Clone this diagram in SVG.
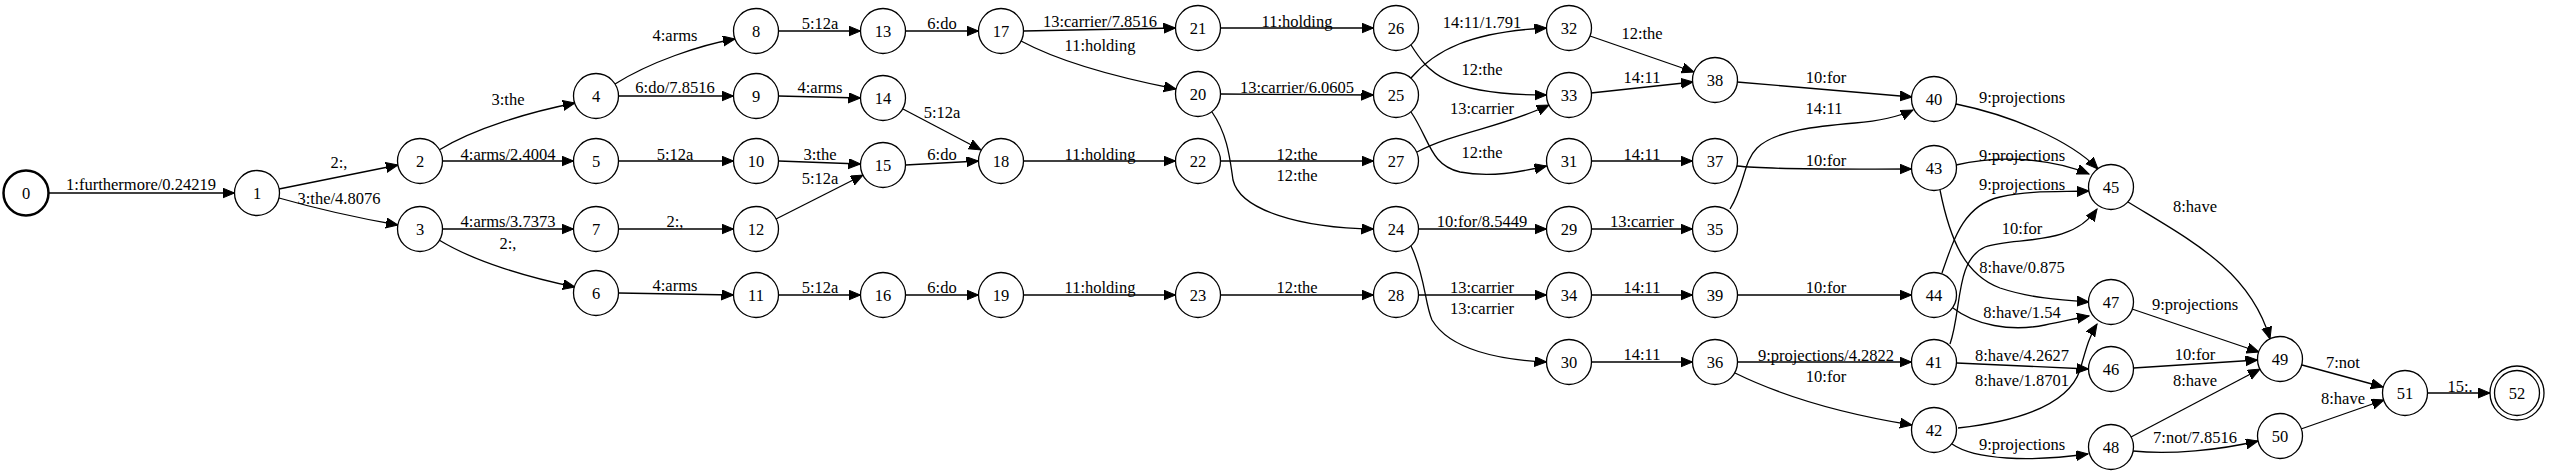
<svg xmlns="http://www.w3.org/2000/svg" width="2550" height="475" viewBox="0 0 2550 475">
<style>
.n circle{fill:#fff;stroke:#000;stroke-width:1.3}
.n text,.lbl text{font-family:"Liberation Serif","Times New Roman",serif;font-size:16.5px;text-anchor:middle;fill:#000}
#edges path{fill:none;stroke:#000;stroke-width:1.3;marker-end:url(#ah)}
</style>
<defs>
<marker id="ah" markerUnits="userSpaceOnUse" markerWidth="13" markerHeight="11" refX="12" refY="5" orient="auto">
<path d="M0,0 L12,5 L0,10 z" fill="#000" stroke="#000" stroke-width="1"/>
</marker>
</defs>
<rect width="2550" height="475" fill="#fff"/>
<g id="edges">
<path d="M48.5,193 L234.5,193"/>
<path d="M279,189 L398,165"/>
<path d="M279,198 Q335,214 398,225"/>
<path d="M439,150 C475,128 530,112 575,103"/>
<path d="M442.5,161 L573.5,161"/>
<path d="M442.5,229 L573.5,229"/>
<path d="M439,240 C475,262 530,278 575,287"/>
<path d="M615,84 C650,62 700,45 735,39"/>
<path d="M618.5,96 L733.5,96"/>
<path d="M618.5,161 L733.5,161"/>
<path d="M618.5,229 L733.5,229"/>
<path d="M618.5,293 L733.5,295"/>
<path d="M778.5,31 L860.5,31"/>
<path d="M778.5,96 L860.5,98"/>
<path d="M778.5,161 L860.5,164"/>
<path d="M776,219 L863,175"/>
<path d="M778.5,295 L860.5,295"/>
<path d="M905.5,31 L978.5,31"/>
<path d="M903,109 L981,150"/>
<path d="M905.5,165 L978.5,161"/>
<path d="M905.5,295 L978.5,295"/>
<path d="M1023.5,31 L1175.5,28"/>
<path d="M1021,41 C1060,62 1120,78 1176,89"/>
<path d="M1023.5,161 L1175.5,161"/>
<path d="M1023.5,295 L1175.5,295"/>
<path d="M1220.5,28 L1373.5,28"/>
<path d="M1220.5,94 L1373.5,95"/>
<path d="M1220.5,161 L1373.5,161"/>
<path d="M1220.5,295 L1373.5,295"/>
<path d="M1212,112 C1228,135 1230,160 1233,180 C1240,210 1300,228 1373.5,229"/>
<path d="M1418.5,229 L1546.5,229"/>
<path d="M1418.5,295 L1546.5,295"/>
<path d="M1411,246 C1425,275 1425,305 1432,320 C1450,350 1500,360 1546.5,362"/>
<path d="M1411,78 C1435,50 1470,32 1546.5,28"/>
<path d="M1411,45 C1428,72 1445,95 1546.5,95"/>
<path d="M1417,152 C1455,132 1500,128 1549,105"/>
<path d="M1411,112 C1430,140 1430,165 1460,172 C1490,178 1520,172 1546.5,166"/>
<path d="M1591.5,229 L1692.5,229"/>
<path d="M1590,36 L1694,72"/>
<path d="M1591,93 L1693,82"/>
<path d="M1591.5,161 L1692.5,161"/>
<path d="M1591.5,295 L1692.5,295"/>
<path d="M1591.5,362 L1692.5,362"/>
<path d="M1737,82 L1912,97"/>
<path d="M1730,209 C1745,185 1743,162 1757,148 C1775,130 1820,126 1855,123 C1880,121 1898,117 1913,110"/>
<path d="M1737,166 C1770,170 1840,169 1911.5,169"/>
<path d="M1737.5,295 L1911.5,295"/>
<path d="M1737.5,362 L1911.5,362"/>
<path d="M1735,373 C1790,400 1850,415 1912,425"/>
<path d="M1956,104 C2010,115 2070,140 2098,169"/>
<path d="M1956,165 C2000,155 2050,158 2089,174"/>
<path d="M1942,273 C1955,235 1965,205 2000,197 C2030,190 2060,192 2089,191"/>
<path d="M1950,344 C1962,310 1955,260 1985,247 C2015,236 2070,248 2097,209"/>
<path d="M1940,190 C1950,240 1965,275 2000,288 C2030,298 2060,300 2089,302"/>
<path d="M1953,308 C1975,325 2010,332 2045,325 C2065,321 2078,318 2089,316"/>
<path d="M1956.5,363 L2088.5,369"/>
<path d="M1958,428 C2030,420 2070,400 2080,370 C2087,345 2090,335 2097,324"/>
<path d="M1952,444 C1975,460 2030,462 2088,454"/>
<path d="M2128,202 C2190,240 2250,270 2270,339"/>
<path d="M2132,309 L2259,352"/>
<path d="M2133.5,368 L2257.5,360"/>
<path d="M2131,437 L2260,369"/>
<path d="M2133,451 C2170,455 2220,450 2258,441"/>
<path d="M2302,365 L2383,387"/>
<path d="M2301,429 L2384,400"/>
<path d="M2427.5,393 L2490,393"/>
</g>
<g class="lbl" id="edge-labels">
<text x="141" y="189.5">1:furthermore/0.24219</text>
<text x="339" y="167.5">2:,</text>
<text x="339" y="203.5">3:the/4.8076</text>
<text x="508" y="104.5">3:the</text>
<text x="508" y="159.5">4:arms/2.4004</text>
<text x="508" y="226.5">4:arms/3.7373</text>
<text x="508" y="248.5">2:,</text>
<text x="675" y="40.5">4:arms</text>
<text x="675" y="92.5">6:do/7.8516</text>
<text x="675" y="159.5">5:12a</text>
<text x="675" y="226.5">2:,</text>
<text x="675" y="290.5">4:arms</text>
<text x="820" y="28.5">5:12a</text>
<text x="820" y="92.5">4:arms</text>
<text x="820" y="159.5">3:the</text>
<text x="820" y="183.5">5:12a</text>
<text x="820" y="292.5">5:12a</text>
<text x="942" y="28.5">6:do</text>
<text x="942" y="117.5">5:12a</text>
<text x="942" y="159.5">6:do</text>
<text x="942" y="292.5">6:do</text>
<text x="1100" y="26.5">13:carrier/7.8516</text>
<text x="1100" y="50.5">11:holding</text>
<text x="1100" y="159.5">11:holding</text>
<text x="1100" y="292.5">11:holding</text>
<text x="1297" y="26.5">11:holding</text>
<text x="1297" y="92.5">13:carrier/6.0605</text>
<text x="1297" y="159.5">12:the</text>
<text x="1297" y="180.5">12:the</text>
<text x="1297" y="292.5">12:the</text>
<text x="1482" y="27.5">14:11/1.791</text>
<text x="1482" y="74.5">12:the</text>
<text x="1482" y="113.5">13:carrier</text>
<text x="1482" y="157.5">12:the</text>
<text x="1482" y="226.5">10:for/8.5449</text>
<text x="1482" y="292.5">13:carrier</text>
<text x="1482" y="313.5">13:carrier</text>
<text x="1642" y="38.5">12:the</text>
<text x="1642" y="82.5">14:11</text>
<text x="1642" y="159.5">14:11</text>
<text x="1642" y="226.5">13:carrier</text>
<text x="1642" y="292.5">14:11</text>
<text x="1642" y="359.5">14:11</text>
<text x="1826" y="82.5">10:for</text>
<text x="1824" y="113.5">14:11</text>
<text x="1826" y="165.5">10:for</text>
<text x="1826" y="292.5">10:for</text>
<text x="1826" y="360.5">9:projections/4.2822</text>
<text x="1826" y="381.5">10:for</text>
<text x="2022" y="102.5">9:projections</text>
<text x="2022" y="160.5">9:projections</text>
<text x="2022" y="189.5">9:projections</text>
<text x="2022" y="233.5">10:for</text>
<text x="2022" y="272.5">8:have/0.875</text>
<text x="2022" y="317.5">8:have/1.54</text>
<text x="2022" y="360.5">8:have/4.2627</text>
<text x="2022" y="385.5">8:have/1.8701</text>
<text x="2022" y="449.5">9:projections</text>
<text x="2195" y="211.5">8:have</text>
<text x="2195" y="309.5">9:projections</text>
<text x="2195" y="359.5">10:for</text>
<text x="2195" y="385.5">8:have</text>
<text x="2195" y="442.5">7:not/7.8516</text>
<text x="2343" y="367.5">7:not</text>
<text x="2343" y="403.5">8:have</text>
<text x="2460" y="391.5">15:.</text>
</g>
<g id="node0" class="n"><circle cx="26" cy="193" r="22.5" style="stroke-width:2.5"/><text x="26" y="198.5">0</text></g>
<g id="node1" class="n"><circle cx="257" cy="193" r="22.5"/><text x="257" y="198.5">1</text></g>
<g id="node2" class="n"><circle cx="420" cy="161" r="22.5"/><text x="420" y="166.5">2</text></g>
<g id="node3" class="n"><circle cx="420" cy="229" r="22.5"/><text x="420" y="234.5">3</text></g>
<g id="node4" class="n"><circle cx="596" cy="96" r="22.5"/><text x="596" y="101.5">4</text></g>
<g id="node5" class="n"><circle cx="596" cy="161" r="22.5"/><text x="596" y="166.5">5</text></g>
<g id="node6" class="n"><circle cx="596" cy="293" r="22.5"/><text x="596" y="298.5">6</text></g>
<g id="node7" class="n"><circle cx="596" cy="229" r="22.5"/><text x="596" y="234.5">7</text></g>
<g id="node8" class="n"><circle cx="756" cy="31" r="22.5"/><text x="756" y="36.5">8</text></g>
<g id="node9" class="n"><circle cx="756" cy="96" r="22.5"/><text x="756" y="101.5">9</text></g>
<g id="node10" class="n"><circle cx="756" cy="161" r="22.5"/><text x="756" y="166.5">10</text></g>
<g id="node11" class="n"><circle cx="756" cy="295" r="22.5"/><text x="756" y="300.5">11</text></g>
<g id="node12" class="n"><circle cx="756" cy="229" r="22.5"/><text x="756" y="234.5">12</text></g>
<g id="node13" class="n"><circle cx="883" cy="31" r="22.5"/><text x="883" y="36.5">13</text></g>
<g id="node14" class="n"><circle cx="883" cy="98" r="22.5"/><text x="883" y="103.5">14</text></g>
<g id="node15" class="n"><circle cx="883" cy="165" r="22.5"/><text x="883" y="170.5">15</text></g>
<g id="node16" class="n"><circle cx="883" cy="295" r="22.5"/><text x="883" y="300.5">16</text></g>
<g id="node17" class="n"><circle cx="1001" cy="31" r="22.5"/><text x="1001" y="36.5">17</text></g>
<g id="node18" class="n"><circle cx="1001" cy="161" r="22.5"/><text x="1001" y="166.5">18</text></g>
<g id="node19" class="n"><circle cx="1001" cy="295" r="22.5"/><text x="1001" y="300.5">19</text></g>
<g id="node20" class="n"><circle cx="1198" cy="94" r="22.5"/><text x="1198" y="99.5">20</text></g>
<g id="node21" class="n"><circle cx="1198" cy="28" r="22.5"/><text x="1198" y="33.5">21</text></g>
<g id="node22" class="n"><circle cx="1198" cy="161" r="22.5"/><text x="1198" y="166.5">22</text></g>
<g id="node23" class="n"><circle cx="1198" cy="295" r="22.5"/><text x="1198" y="300.5">23</text></g>
<g id="node24" class="n"><circle cx="1396" cy="229" r="22.5"/><text x="1396" y="234.5">24</text></g>
<g id="node25" class="n"><circle cx="1396" cy="95" r="22.5"/><text x="1396" y="100.5">25</text></g>
<g id="node26" class="n"><circle cx="1396" cy="28" r="22.5"/><text x="1396" y="33.5">26</text></g>
<g id="node27" class="n"><circle cx="1396" cy="161" r="22.5"/><text x="1396" y="166.5">27</text></g>
<g id="node28" class="n"><circle cx="1396" cy="295" r="22.5"/><text x="1396" y="300.5">28</text></g>
<g id="node29" class="n"><circle cx="1569" cy="229" r="22.5"/><text x="1569" y="234.5">29</text></g>
<g id="node30" class="n"><circle cx="1569" cy="362" r="22.5"/><text x="1569" y="367.5">30</text></g>
<g id="node31" class="n"><circle cx="1569" cy="161" r="22.5"/><text x="1569" y="166.5">31</text></g>
<g id="node32" class="n"><circle cx="1569" cy="28" r="22.5"/><text x="1569" y="33.5">32</text></g>
<g id="node33" class="n"><circle cx="1569" cy="95" r="22.5"/><text x="1569" y="100.5">33</text></g>
<g id="node34" class="n"><circle cx="1569" cy="295" r="22.5"/><text x="1569" y="300.5">34</text></g>
<g id="node35" class="n"><circle cx="1715" cy="229" r="22.5"/><text x="1715" y="234.5">35</text></g>
<g id="node36" class="n"><circle cx="1715" cy="362" r="22.5"/><text x="1715" y="367.5">36</text></g>
<g id="node37" class="n"><circle cx="1715" cy="161" r="22.5"/><text x="1715" y="166.5">37</text></g>
<g id="node38" class="n"><circle cx="1715" cy="80" r="22.5"/><text x="1715" y="85.5">38</text></g>
<g id="node39" class="n"><circle cx="1715" cy="295" r="22.5"/><text x="1715" y="300.5">39</text></g>
<g id="node40" class="n"><circle cx="1934" cy="99" r="22.5"/><text x="1934" y="104.5">40</text></g>
<g id="node41" class="n"><circle cx="1934" cy="362" r="22.5"/><text x="1934" y="367.5">41</text></g>
<g id="node42" class="n"><circle cx="1934" cy="430" r="22.5"/><text x="1934" y="435.5">42</text></g>
<g id="node43" class="n"><circle cx="1934" cy="168" r="22.5"/><text x="1934" y="173.5">43</text></g>
<g id="node44" class="n"><circle cx="1934" cy="295" r="22.5"/><text x="1934" y="300.5">44</text></g>
<g id="node45" class="n"><circle cx="2111" cy="187" r="22.5"/><text x="2111" y="192.5">45</text></g>
<g id="node46" class="n"><circle cx="2111" cy="369" r="22.5"/><text x="2111" y="374.5">46</text></g>
<g id="node47" class="n"><circle cx="2111" cy="302" r="22.5"/><text x="2111" y="307.5">47</text></g>
<g id="node48" class="n"><circle cx="2111" cy="447" r="22.5"/><text x="2111" y="452.5">48</text></g>
<g id="node49" class="n"><circle cx="2280" cy="359" r="22.5"/><text x="2280" y="364.5">49</text></g>
<g id="node50" class="n"><circle cx="2280" cy="436" r="22.5"/><text x="2280" y="441.5">50</text></g>
<g id="node51" class="n"><circle cx="2405" cy="393" r="22.5"/><text x="2405" y="398.5">51</text></g>
<g id="node52" class="n"><circle cx="2517" cy="393" r="27"/><circle cx="2517" cy="393" r="22.5"/><text x="2517" y="398.5">52</text></g>
</svg>
